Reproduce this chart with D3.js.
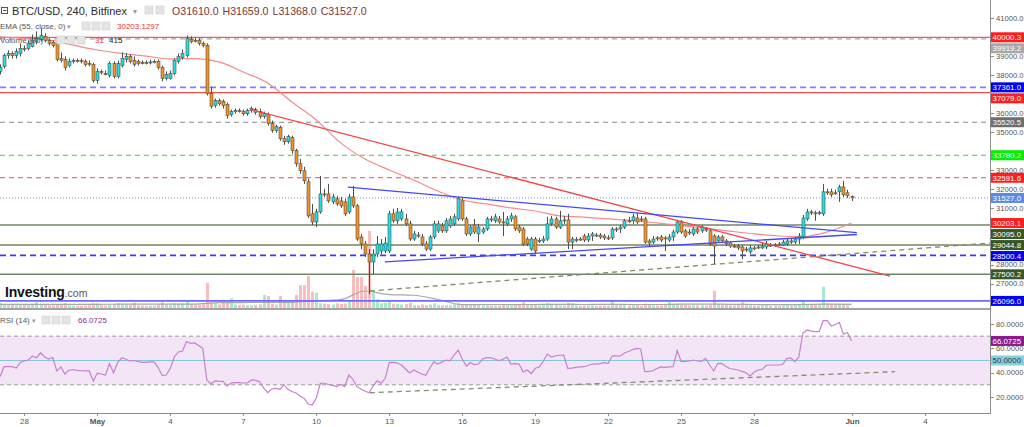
<!DOCTYPE html>
<html><head><meta charset="utf-8">
<script src="https://cdn.jsdelivr.net/npm/d3@7"></script>
<style>html,body{margin:0;padding:0;background:#fff;overflow:hidden}svg{display:block;font-family:"Liberation Sans",Arial,sans-serif}</style>
</head><body><svg id="c" width="1024" height="427"></svg>
<script>
// ---------- DATA (4h bars, BTC/USD Bitfinex, from 2022-04-27 00:00) ----------
const opens=[38200,38460,39040,39150,39040,39150,39410,39410,39520,39780,
39890,40050,39840,39730,39680,38880,38830,38510,38730,38780,
38780,38730,38620,38570,37720,38200,38090,37990,38620,37930,
38510,38830,38990,38780,38730,38670,38670,38670,38730,38730,
38410,37830,37830,38090,38730,38940,39040,39890,39840,39840,
39680,39570,37030,36400,36660,36610,36450,35920,36110,36130,
36080,35970,36130,36190,36080,35820,35920,35450,35080,35240,
34650,34490,34710,34020,33330,32960,32380,30690,30260,30790,
31740,31740,31320,31480,31370,31320,30790,31580,31110,29470,
29100,28570,28150,28570,28730,28730,28730,30690,30320,30420,
30420,30160,29360,29570,29470,29100,28830,29470,29790,30050,
29790,30050,30160,30420,31370,30420,29630,30100,29630,29730,
29890,30420,30320,30420,30260,30160,30420,30530,29990,29890,
29360,28830,29360,29260,29260,29360,30160,30420,29990,30320,
30370,29200,29310,29360,29520,29310,29520,29570,29570,29520,
29420,29420,29890,29890,29990,30320,30320,30470,30420,30420,
29260,29200,29420,29470,29420,29310,29470,29730,30260,29790,
29730,29630,29890,29790,29890,29790,29520,29260,29470,29260,
29150,28990,28990,28940,28830,28680,28890,28940,28890,28940,
29040,29040,29100,29040,29100,29260,29200,29360,29470,30420,
30790,30740,30740,30690,31850,31850,31800,31850,32110,31800,
31610];
const highs=[38570,39150,39310,39250,39410,39680,39570,39840,40150,40310,
40470,40210,39940,39840,39780,39200,38990,38880,38880,38880,
38880,38830,38780,38670,38360,38300,38250,38730,38730,38780,
39200,39150,39100,38990,38830,38780,38780,38830,38830,38830,
38510,38200,38250,38880,39150,39360,40100,40050,39990,39940,
39780,39680,37400,36770,36770,36720,36560,36190,36240,36240,
36190,36240,36350,36290,36240,36080,36030,35610,35390,35340,
34810,34860,34810,34120,33590,33170,32540,31210,30950,32690,
32010,32270,31740,31640,31580,31480,31740,32170,31210,29630,
29260,28830,28830,29520,29360,29470,30850,30950,31000,30950,
30690,30320,29790,29730,29630,29260,29570,30320,30320,30210,
30470,30580,30690,31580,31530,30530,30100,30420,30160,29990,
30530,30580,30690,30580,30790,30580,30740,30630,30100,29990,
29470,29470,29470,29420,29520,30530,30580,30530,30850,30580,
30690,29470,29470,29470,29630,29680,29730,29680,29680,29630,
29570,29990,29990,30100,30420,30530,30690,30740,30580,30530,
29360,29520,29520,29570,29520,29630,29840,30370,30370,29890,
29890,29990,29990,30100,29990,29890,29630,29570,29570,29360,
29260,29100,29100,29040,28940,29040,28990,29040,29150,29260,
29150,29150,29200,29310,29360,29360,29470,29680,30630,30950,
30900,30850,30850,32270,32010,32010,31960,32220,32430,31960,
31659];
const lows=[38040,38360,38880,38880,38880,38990,39250,39310,39470,39630,
39780,39730,39570,39470,38730,38670,38250,38410,38620,38670,
38620,38460,38460,37610,37560,38040,37990,37880,37830,37830,
38410,38670,38620,38460,38510,38570,38570,38570,38620,38300,
37670,37720,37770,37990,38620,38830,38940,39680,39730,39570,
39470,36930,36240,36290,36400,36240,35710,35820,35970,36030,
35870,35870,36030,35920,35710,35710,35340,34970,34970,34540,
34330,34390,33860,33170,32800,32270,30480,30100,29990,30690,
31580,31270,31210,31110,31000,30580,30690,31000,29260,28830,
28410,26450,27510,28410,28570,28620,28620,30210,30160,30320,
30050,29260,29260,29420,28990,28730,28730,29360,29680,29680,
29680,29950,30050,30320,30320,29520,29520,29630,29200,29630,
29790,30260,30210,30160,29520,30050,30260,29790,29680,28990,
28990,28730,28620,29150,29150,29260,30050,29890,29890,30160,
28830,28830,29200,29260,29200,29200,29260,29470,29360,29310,
29310,29310,29730,29680,29890,30210,30160,30160,30260,29100,
28990,29100,29260,29200,28730,29200,29260,29630,29630,29420,
29570,29520,29630,29680,29730,28990,28040,29150,29150,28990,
28890,28880,28780,28300,28680,28570,28780,28830,28830,28830,
28940,28940,28990,28990,28990,29100,29100,29100,29360,30320,
30630,30320,30630,30580,31690,31580,31690,31320,31580,31530,
31368];
const closes=[38410,39040,39150,39040,39250,39410,39390,39680,39840,39940,
40100,39840,39680,39570,38830,38780,38410,38730,38780,38750,
38730,38570,38590,37720,38200,38140,38060,38620,37930,38620,
38880,38990,38730,38570,38620,38650,38660,38700,38670,38410,
37830,38040,38090,38780,38990,39150,39940,39780,39810,39680,
39570,37030,36350,36660,36500,36400,35870,36080,36130,36110,
35970,36130,36240,36030,35820,35970,35450,35080,35290,34650,
34490,34760,34020,33330,32960,32430,30580,30260,30790,31740,
31720,31370,31580,31210,31110,30690,31580,31110,29360,29100,
28570,28150,28570,29100,29100,29150,30690,30320,30790,30790,
30160,29360,29630,29550,29100,28830,29470,30160,30160,29790,
30320,30420,30530,31480,30420,29630,29990,29730,29990,29890,
30420,30400,30530,30260,30240,30420,30580,29890,29790,29100,
29100,29360,28730,29280,29360,30160,30420,29990,30320,30370,
29200,29360,29330,29350,29310,29520,29630,29560,29470,29420,
29410,29890,29880,29990,30320,30310,30530,30260,30410,29200,
29150,29360,29410,29310,29410,29470,29730,30260,29730,29520,
29720,29890,29730,29990,29880,29100,28990,29470,29260,29100,
28990,28980,28890,28730,28820,28890,28880,28930,28990,29100,
29030,29050,29090,29200,29260,29200,29360,29520,30470,30790,
30780,30730,30750,31850,31840,31690,31790,32110,31690,31640,
31527];
const volumes=[530,340,340,340,300,350,420,400,450,650,
420,380,320,300,450,380,530,300,280,260,
250,280,300,530,530,300,280,400,420,530,
420,380,350,600,300,280,260,260,280,400,
650,380,350,530,450,500,830,450,350,380,
420,2870,650,600,400,910,910,1100,400,350,
380,320,300,350,400,1480,1360,500,400,1360,
900,600,700,1500,2600,2600,3640,1850,1740,530,
500,450,400,530,450,500,800,4320,3520,3520,
2500,8750,2050,1000,530,600,900,500,450,400,
450,600,350,300,400,350,400,530,350,300,
350,300,420,600,420,420,420,350,380,300,
400,280,300,260,350,300,280,450,350,650,
400,380,450,300,450,550,350,320,300,280,
600,530,300,260,280,300,320,250,260,280,
250,830,300,350,380,280,320,350,260,500,
350,300,260,280,350,650,400,500,400,350,
300,320,280,300,280,350,1970,450,350,320,
300,280,320,650,300,350,280,260,300,320,
260,280,250,300,400,300,350,400,830,450,
350,400,350,2420,500,400,350,400,350,300,
31];
const rsi=[36.7,44.9,44.9,44.9,43.8,48.4,49.6,50.4,53.7,52.1,
56.4,52.9,51.2,52.5,41.4,44.7,38.9,42.2,42.4,41.9,
41.6,41.5,41.4,33.2,39.5,38.9,38.1,47.5,40.0,48.2,
52.1,51.2,49.6,50.0,49.2,48.4,48.4,48.8,48.8,44.2,
37.8,38.1,43.6,53.1,57.0,57.8,65.6,64.1,64.4,62.3,
59.9,34.0,30.7,33.2,33.0,32.9,29.0,31.5,31.8,31.8,
31.5,31.5,34.0,33.6,32.7,27.4,23.5,26.6,27.0,26.2,
29.9,26.3,24.5,23.3,20.8,18.9,14.2,13.4,19.2,31.3,
31.3,30.3,29.5,28.5,30.3,28.6,38.1,34.8,28.5,26.6,
24.9,23.5,29.0,33.4,31.3,35.4,48.2,48.4,47.9,46.3,
43.0,39.7,42.2,40.5,38.9,37.8,43.8,49.0,47.1,48.8,
50.4,49.8,54.5,58.6,51.2,45.5,48.2,46.7,47.1,51.2,
52.3,52.3,51.2,50.0,51.0,52.9,47.1,47.5,47.1,40.5,
42.2,39.3,43.6,44.7,49.6,55.3,52.9,53.9,54.3,54.5,
43.6,43.8,44.4,44.7,44.9,45.9,47.1,47.0,47.5,48.2,
47.7,53.9,53.8,53.7,56.2,57.4,59.0,59.9,59.5,40.8,
41.0,41.6,43.4,44.7,44.4,44.7,44.9,58.1,49.0,49.2,
49.6,50.4,49.6,49.2,51.8,46.3,41.4,47.5,47.7,45.1,
43.4,42.8,42.2,41.1,40.0,37.3,40.5,42.2,42.8,46.1,
46.3,46.3,46.3,46.7,51.6,52.2,49.0,52.9,72.4,75.1,
74.2,73.7,73.7,82.7,82.7,78.4,79.6,81.1,71.8,72.8,
66.0725];
// EMA(55) and Volume MA(20), read once per day (every 6th bar)
const emaDaily=[40020,39940,39860,39590,39330,39150,39010,38860,38880,38700,38170,37590,36590,35640,34430,33580,33000,32470,31890,31420,31210,31000,30840,30580,30520,30420,30340,30210,30070,29940,29780,29630,29520,29490,29730,30203.1297];
const volMaDaily=[420,420,420,420,420,430,430,430,430,600,620,640,650,800,950,1930,1530,1450,970,375,400,390,400,410,400,420,400,400,430,450,420,400,380,400,430,415];
// horizontal levels drawn on the chart
const levelValues=[40000.3,39919.2,37361.0,37079.0,35520.5,33780.2,32591.6,30095.0,29044.8,28500.4,27500.2,26096.0];
// trend lines: [bar index, value]
const trendRed=[[61.65,36200],[219.5,27410]];
const triUpper=[[85.8,32100],[211.3,29700]];
const triLower=[[94.9,28150],[211.3,29600]];
const supportLine=[[91.2,26620],[244.1,29150]];
const rsiTrend=[[91.2,23.5],[220.7,40.8]];
// axis ticks
const priceTicks=[26000,27000,28000,29000,30000,31000,32000,33000,34000,35000,36000,37000,38000,39000,40000,41000];
const rsiTicks=[20,40,60,80];
const dateTicks=["2022-04-28","2022-05-01","2022-05-04","2022-05-07","2022-05-10","2022-05-13","2022-05-16","2022-05-19","2022-05-22","2022-05-25","2022-05-28","2022-06-01","2022-06-04"];
const dateLabels=["28","May","4","7","10","13","16","19","22","25","28","Jun","4"];

// ---------- LAYOUT ----------
const W=1024,H=427,PR=990,P_BOT=308,R_TOP=310,R_BOT=413;
const START=Date.UTC(2022,3,27),BAR=4*3600e3,PX_DAY=24.33;
const svg=d3.select("#c");
const x=d3.scaleUtc().domain([new Date(START),new Date(START+PR/PX_DAY*864e5)]).range([0,PR]);
const y=d3.scaleLinear().domain([27000,40000]).range([283.78,37.3]);
const yV=d3.scaleLinear().domain([0,35000]).range([P_BOT,0]);
const yR=d3.scaleLinear().domain([20,80]).range([397,324]);
const n=closes.length;
const t=i=>new Date(START+i*BAR);
const xb=i=>Math.round(x(t(i)));
const UP="#22dfe0",DN="#f7921e",EDGE="#4f4f4f";

const defs=svg.append("defs");
defs.append("clipPath").attr("id","cp").append("rect").attr("x",0).attr("y",0).attr("width",PR).attr("height",P_BOT);
defs.append("clipPath").attr("id","cr").append("rect").attr("x",0).attr("y",R_TOP).attr("width",PR).attr("height",R_BOT-R_TOP);

svg.append("rect").attr("width",W).attr("height",H).attr("fill","#fff");
const gp=svg.append("g").attr("clip-path","url(#cp)");

// volume
gp.append("g").selectAll("rect").data(d3.range(n)).join("rect")
 .attr("x",i=>xb(i)-1).attr("width",3)
 .attr("y",i=>yV(volumes[i])).attr("height",i=>P_BOT-yV(volumes[i]))
 .attr("fill",i=>closes[i]>=opens[i]?"#a6e9cd":"#f9bdbd");
gp.append("path").datum(volMaDaily).attr("fill","none").attr("stroke","#a9a9a9").attr("stroke-width",1.2)
 .attr("d",d3.line().x((d,k)=>x(t(k*6))).y(d=>yV(d)).curve(d3.curveMonotoneX));

// levels
const levelStyles=[
 {s:"#f25c5c",d:null,w:1.2,bg:"#ff1c1c",fg:"#fff"},
 {s:"#aaaaaa",d:"5,4",w:1.2,bg:"#a8a8a8",fg:"#fff"},
 {s:"#8080ff",d:"6,4",w:1.8,bg:"#0000f5",fg:"#fff"},
 {s:"#ee4b4b",d:null,w:1.2,bg:"#ff1c1c",fg:"#fff"},
 {s:"#8a8a8a",d:"5,4",w:1.2,bg:"#6e6e6e",fg:"#fff"},
 {s:"#3fd43f",d:"5,4",w:1.2,bg:"#00f000",fg:"#fff"},
 {s:"#ff4040",d:"5,4",w:1.2,bg:"#ff1c1c",fg:"#fff"},
 {s:"#708766",d:null,w:1.5,bg:"#385726",fg:"#fff"},
 {s:"#708766",d:null,w:1.5,bg:"#385726",fg:"#fff"},
 {s:"#3a3aff",d:"6,4",w:1.6,bg:"#0000f5",fg:"#fff"},
 {s:"#708766",d:null,w:1.5,bg:"#385726",fg:"#fff"},
 {s:"#6b6bff",d:null,w:1.6,bg:"#0000f5",fg:"#fff"}];
levelValues.forEach((v,k)=>{const st=levelStyles[k];
 gp.append("line").attr("x1",0).attr("x2",PR).attr("y1",y(v)).attr("y2",y(v))
  .attr("stroke",st.s).attr("stroke-width",st.w).attr("stroke-dasharray",st.d);});
// last price line
gp.append("line").attr("x1",0).attr("x2",PR).attr("y1",y(closes[n-1])).attr("y2",y(closes[n-1]))
 .attr("stroke","#6f93f5").attr("stroke-width",1).attr("stroke-dasharray","1,2");

// EMA
gp.append("path").datum(emaDaily).attr("fill","none").attr("stroke","#f58a8a").attr("stroke-width",1.2)
 .attr("d",d3.line().x((d,k)=>x(t(k*6))).y(d=>y(d)).curve(d3.curveMonotoneX));

// support dashed
const seg=(g,pts,ys,col,w,dash)=>g.append("line").attr("x1",x(t(pts[0][0]))).attr("y1",ys(pts[0][1]))
 .attr("x2",x(t(pts[1][0]))).attr("y2",ys(pts[1][1])).attr("stroke",col).attr("stroke-width",w).attr("stroke-dasharray",dash);
seg(gp,supportLine,y,"#7d8c6e",1.3,"5,4");

// candles
const gc=gp.append("g");
gc.selectAll("line").data(d3.range(n)).join("line")
 .attr("x1",i=>xb(i)+0.5).attr("x2",i=>xb(i)+0.5).attr("y1",i=>y(highs[i])).attr("y2",i=>y(lows[i]))
 .attr("stroke",EDGE).attr("stroke-width",1);
gc.selectAll("rect").data(d3.range(n)).join("rect")
 .attr("x",i=>xb(i)-1).attr("width",3)
 .attr("y",i=>y(Math.max(opens[i],closes[i])))
 .attr("height",i=>Math.max(1,Math.abs(y(opens[i])-y(closes[i]))))
 .attr("fill",i=>closes[i]>=opens[i]?UP:DN).attr("stroke",EDGE).attr("stroke-width",0.6);

// trend lines
seg(gp,trendRed,y,"#f04545",1.3,null);
seg(gp,triUpper,y,"#4747f5",1.3,null);
seg(gp,triLower,y,"#4747f5",1.3,null);

// Investing.com logo
const lg=svg.append("text").attr("x",5).attr("y",297);
lg.append("tspan").text("Investing").attr("font-weight","bold").attr("font-size",14).attr("fill","#111").attr("letter-spacing",-0.2);
lg.append("tspan").text(".com").attr("font-size",10.5).attr("fill","#555");

// separator
svg.append("rect").attr("x",0).attr("y",P_BOT).attr("width",PR).attr("height",2).attr("fill","#a3a3a3");

// ---------- RSI ----------
const gr=svg.append("g").attr("clip-path","url(#cr)");
gr.append("rect").attr("x",0).attr("width",PR).attr("y",yR(70)).attr("height",yR(30)-yR(70)).attr("fill","#f3e5f5");
[70,30].forEach(v=>gr.append("line").attr("x1",0).attr("x2",PR).attr("y1",yR(v)).attr("y2",yR(v)).attr("stroke","#9a9a9a").attr("stroke-dasharray","4,3"));
gr.append("line").attr("x1",0).attr("x2",PR).attr("y1",yR(50)).attr("y2",yR(50)).attr("stroke","#86c6dc").attr("stroke-width",1.2);
seg(gr,rsiTrend,yR,"#7f8f6f",1.3,"5,4");
gr.append("path").datum(rsi).attr("fill","none").attr("stroke","#c77fd0").attr("stroke-width",1.2)
 .attr("d",d3.line().x((d,i)=>x(t(i))).y(d=>yR(d)));

// ---------- AXES ----------
svg.append("rect").attr("x",PR).attr("y",0).attr("width",W-PR).attr("height",H).attr("fill","#fff");
svg.append("line").attr("x1",PR+0.5).attr("x2",PR+0.5).attr("y1",0).attr("y2",R_BOT).attr("stroke","#8c8c8c");
svg.append("line").attr("x1",0).attr("x2",PR+1).attr("y1",R_BOT+0.5).attr("y2",R_BOT+0.5).attr("stroke","#8c8c8c");

// date axis
dateTicks.forEach((s,k)=>{const xx=Math.round(x(new Date(s+"T00:00:00Z")))+0.5;
 svg.append("line").attr("x1",xx).attr("x2",xx).attr("y1",R_BOT).attr("y2",R_BOT+3).attr("stroke","#8c8c8c");
 svg.append("text").attr("x",xx).attr("y",424).attr("text-anchor","middle").attr("font-size",8)
  .attr("font-weight",/[A-Z]/.test(dateLabels[k])?"bold":"normal").attr("fill","#555").text(dateLabels[k]);});

// price labels (stacked)
const labs=levelValues.map((v,k)=>({v,bg:levelStyles[k].bg,fg:levelStyles[k].fg}));
labs.push({v:closes[n-1],bg:"#5b8ae6",fg:"#fff"});
labs.push({v:emaDaily[emaDaily.length-1],bg:"#ff1c1c",fg:"#fff"});
labs.sort((a,b)=>y(a.v)-y(b.v));
let prev=-1e9;labs.forEach(l=>{l.y=Math.max(y(l.v),prev+11);prev=l.y;});
priceTicks.forEach(v=>{const yy=y(v);if(yy<4||yy>P_BOT-2)return;
 if(labs.some(l=>Math.abs(l.y-yy)<6.5))return;
 svg.append("line").attr("x1",PR).attr("x2",PR+4).attr("y1",Math.round(yy)+0.5).attr("y2",Math.round(yy)+0.5).attr("stroke","#8c8c8c");
 svg.append("text").attr("x",PR+6).attr("y",yy).attr("dy","0.35em").attr("font-size",7.6).attr("fill","#555").text(v.toFixed(1));});
labs.forEach(l=>{svg.append("rect").attr("x",PR+1).attr("y",l.y-5).attr("width",W-PR-1).attr("height",10).attr("fill",l.bg);
 svg.append("text").attr("x",PR+2.5).attr("y",l.y).attr("dy","0.36em").attr("font-size",7.9).attr("fill",l.fg).text(l.v.toFixed(1));});

// rsi axis
rsiTicks.forEach(v=>{const yy=yR(v);
 svg.append("line").attr("x1",PR).attr("x2",PR+4).attr("y1",Math.round(yy)+0.5).attr("y2",Math.round(yy)+0.5).attr("stroke","#8c8c8c");
 svg.append("text").attr("x",PR+6).attr("y",yy).attr("dy","0.35em").attr("font-size",7.6).attr("fill","#555").text(v.toFixed(4));});
[[rsi[n-1],"#8b1b8b","#fff"],[50,"#84cfe0","#333"]].forEach(([v,bg,fg])=>{
 svg.append("rect").attr("x",PR+1).attr("y",yR(v)-5).attr("width",W-PR-1).attr("height",10).attr("fill",bg);
 svg.append("text").attr("x",PR+2.5).attr("y",yR(v)).attr("dy","0.36em").attr("font-size",7.9).attr("fill",fg).text(v.toFixed(4));});

// ---------- LEGENDS ----------
const icon=(xx,yy)=>svg.append("rect").attr("x",xx).attr("y",yy).attr("width",8).attr("height",8).attr("fill","#e4e4e4").attr("stroke","#cfcfcf").attr("stroke-width",0.6);
svg.append("rect").attr("x",1.5).attr("y",7.5).attr("width",6).attr("height",6).attr("fill","none").attr("stroke","#555");
svg.append("line").attr("x1",3).attr("x2",6.5).attr("y1",10.5).attr("y2",10.5).attr("stroke","#555");
svg.append("text").attr("x",12).attr("y",15).attr("font-size",11).attr("fill","#2b2b2b").text("BTC/USD, 240, Bitfinex");
svg.append("text").attr("x",133).attr("y",14).attr("font-size",8).attr("fill","#999").text("▾");
icon(145,6);icon(156,6);
const ohlc=svg.append("text").attr("x",172).attr("y",15).attr("font-size",10.6).attr("fill","#7d3535");
[["O",opens],["H",highs],["L",lows],["C",closes]].forEach(([k,a],j)=>ohlc.append("tspan").attr("dx",j?4:0).text(k+a[n-1].toFixed(1)));
svg.append("text").attr("x",0).attr("y",29).attr("font-size",8).attr("fill","#555").text("EMA (55, close, 0)");
svg.append("text").attr("x",67).attr("y",28.5).attr("font-size",7).attr("fill","#999").text("▾");
icon(82,22);icon(92,22);icon(102,22);
svg.append("text").attr("x",117).attr("y",29).attr("font-size",8).attr("fill","#f03030").text(emaDaily[emaDaily.length-1].toFixed(4));
svg.append("text").attr("x",0).attr("y",43).attr("font-size",8).attr("fill","#555").text("Volume (20)");
icon(57,36);icon(67,36);icon(77,36);
svg.append("text").attr("x",95).attr("y",43).attr("font-size",8).attr("fill","#f03030").text(volumes[n-1]);
svg.append("text").attr("x",109).attr("y",43).attr("font-size",8).attr("fill","#222").text(volMaDaily[volMaDaily.length-1]);
svg.append("text").attr("x",0).attr("y",323).attr("font-size",8).attr("fill","#555").text("RSI (14)");
svg.append("text").attr("x",32).attr("y",322.5).attr("font-size",7).attr("fill","#999").text("▾");
icon(42,316);icon(52,316);icon(62,316);
svg.append("text").attr("x",78).attr("y",323).attr("font-size",8).attr("fill","#8e2a9a").text(rsi[n-1].toFixed(4));
</script></body></html>
